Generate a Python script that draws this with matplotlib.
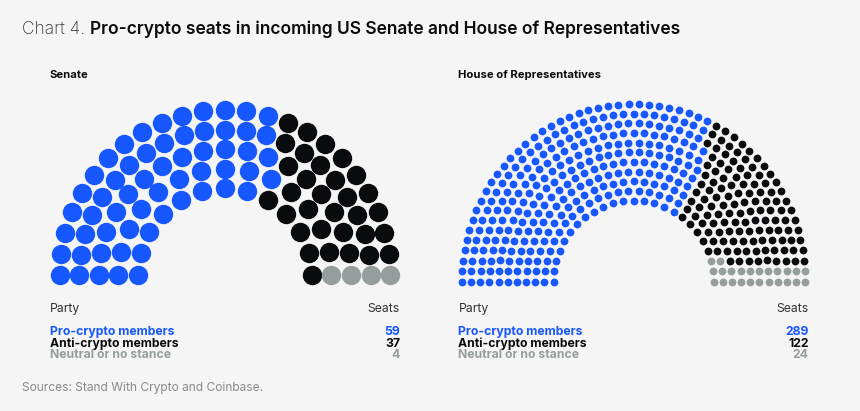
import numpy as np
import matplotlib
matplotlib.use('Agg')
import matplotlib.pyplot as plt

parties = ['Pro-crypto members', 'Anti-crypto members', 'Neutral or no stance']
colors = ['#1757ff', '#0a0b0d', '#959e9d']

# numbers printed in the tables
senate_labels = [59, 37, 4]
house_labels = [289, 122, 24]

# dots drawn in the reference, inner row first (the senate arc only shows 95)
senate_rows = [13, 15, 19, 23, 25]
senate_pro = [8, 10, 12, 14, 15]
senate_neutral = 4
house_rows = [25, 28, 31, 34, 37, 40, 42, 45, 48, 51, 54]
house_pro = [17, 19, 21, 23, 25, 27, 28, 30, 31, 33, 35]
house_neutral = 24

bg = '#f5f5f5'
plt.rcParams['font.family'] = ['Inter', 'DejaVu Sans']

fig = plt.figure(figsize=(8.6, 4.11), dpi=100, facecolor=bg)
ax = fig.add_axes([0, 0, 1, 1])
ax.set_xlim(0, 860)
ax.set_ylim(411, 0)
ax.axis('off')


def hemicycle(rows, pro_row, n_neutral, inner_first, cx, cy, rx, ry, size):
    seats = []
    for i, n in enumerate(rows):
        for k in range(n):
            # row, place in row, places left to the right end, angle
            seats.append((i, k, n - 1 - k, np.pi * (1 - k / (n - 1))))
    # neutral seats fill the bottom right corner
    sign = 1 if inner_first else -1
    by_end = sorted(seats, key=lambda s: (s[2], sign * s[0]))
    neutral = by_end[:n_neutral]
    rest = by_end[n_neutral:]
    pro = [s for s in rest if s[1] < pro_row[s[0]]]
    anti = [s for s in rest if s[1] >= pro_row[s[0]]]
    for group, col in zip([pro, anti, neutral], colors):
        a = np.array([s[3] for s in group])
        xr = np.array([rx[s[0]] for s in group])
        yr = np.array([ry[s[0]] for s in group])
        ax.scatter(cx + xr * np.cos(a), cy - yr * np.sin(a), s=(size * 0.72) ** 2,
                   color=col, linewidths=0, zorder=3)


def table(x0, x1, title, labels):
    ax.text(x0, 74.5, title, fontsize=8.1, fontweight='bold', color='#0a0b0d', va='center')
    ax.text(x0, 308.5, 'Party', fontsize=8.8, color='#333333', va='center')
    ax.text(x1, 308.5, 'Seats', fontsize=8.8, color='#333333', va='center', ha='right')
    for y, party, val, col in zip([331.7, 343.5, 354.5], parties, labels, colors):
        ax.text(x0, y, party, fontsize=8.8, fontweight='bold', color=col, va='center')
        ax.text(x1, y, str(val), fontsize=8.8, fontweight='bold', color=col, va='center', ha='right')


rad = np.linspace(87, 165.3, len(senate_rows))
hemicycle(senate_rows, senate_pro, senate_neutral, False, 224.8, 275.3, rad, rad, 19.4)
hemicycle(house_rows, house_pro, house_neutral, True, 633.6, 281.7,
          np.linspace(80, 171.7, len(house_rows)), np.linspace(81, 177.7, len(house_rows)), 7.8)

table(50, 400, 'Senate', senate_labels)
table(458.5, 808.5, 'House of Representatives', house_labels)

ax.text(22, 29, 'Chart 4. ', fontsize=12.5, color='#333333', va='center', fontweight='light')
ax.text(89.5, 29, 'Pro-crypto seats in incoming US Senate and House of Representatives',
        fontsize=12.5, fontweight='semibold', color='#0a0b0d', va='center')

ax.text(22, 387.5, 'Sources: Stand With Crypto and Coinbase.', fontsize=8.6, color='#8a8a8a', va='center')

fig.savefig('out.png', dpi=100, facecolor=bg)
